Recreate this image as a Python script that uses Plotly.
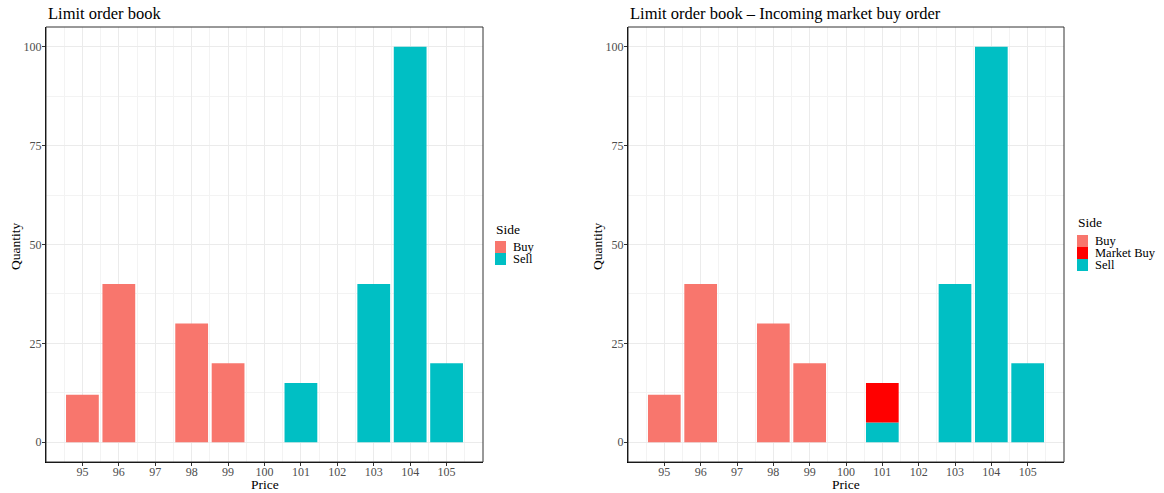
import plotly.graph_objects as go

prices = [95, 96, 97, 98, 99, 100, 101, 102, 103, 104, 105]
buy_price = [95, 96, 98, 99]
buy_qty = [12, 40, 30, 20]
sell_price = [101, 103, 104, 105]
sell_qty = [15, 40, 100, 20]
# right panel
sell_price2 = [101, 103, 104, 105]
sell_qty2 = [5, 40, 100, 20]
mkt_price = [101]
mkt_qty = [10]
y_ticks = [0, 25, 50, 75, 100]

C_BUY = "#F8766D"
C_SELL = "#00BFC4"
C_MKT = "#FF0000"
FONT = "Liberation Serif"

fig = go.Figure()
fig.add_bar(x=buy_price, y=buy_qty, name="Buy", marker_color=C_BUY, width=0.9,
            xaxis="x", yaxis="y", marker_line_width=0)
fig.add_bar(x=sell_price, y=sell_qty, name="Sell", marker_color=C_SELL, width=0.9,
            xaxis="x", yaxis="y", marker_line_width=0)
fig.add_bar(x=buy_price, y=buy_qty, name="Buy", marker_color=C_BUY, width=0.9,
            xaxis="x2", yaxis="y2", marker_line_width=0)
fig.add_bar(x=sell_price2, y=sell_qty2, name="Sell", marker_color=C_SELL, width=0.9,
            xaxis="x2", yaxis="y2", marker_line_width=0)
fig.add_bar(x=mkt_price, y=mkt_qty, base=[sell_qty2[0]], name="Market Buy", marker_color=C_MKT,
            width=0.9, xaxis="x2", yaxis="y2", marker_line_width=0)

W, H = 1164, 493

def px(x):
    return x / W

def py(y):
    return 1 - y / H

ydom = [py(462), py(27)]
xdom1 = [px(46), px(483)]
xdom2 = [px(628), px(1064)]

def xaxis(dom, anchor):
    return dict(domain=dom, anchor=anchor, range=[94, 106], tickvals=prices,
                ticktext=[str(p) for p in prices], showgrid=True, gridcolor="#EBEBEB",
                gridwidth=1, minor=dict(dtick=0.5, tick0=94, showgrid=True, gridcolor="#F3F3F3", gridwidth=0.6),
                showline=True, linecolor="black", linewidth=1.3, ticks="outside", ticklen=3,
                tickcolor="#333333", tickfont=dict(size=12, color="#4D4D4D", family=FONT),
                ticklabelstandoff=-5,
                zeroline=False, fixedrange=True, automargin=False)

def yaxis(dom, anchor):
    return dict(domain=dom, anchor=anchor, range=[-5, 105], tickvals=y_ticks,
                showgrid=True, gridcolor="#EBEBEB", gridwidth=1,
                minor=dict(dtick=12.5, tick0=0, showgrid=True, gridcolor="#F3F3F3", gridwidth=0.6),
                showline=True, linecolor="black", linewidth=1.3, ticks="outside", ticklen=3,
                tickcolor="#333333", tickfont=dict(size=12, color="#4D4D4D", family=FONT),
                ticklabelstandoff=-2,
                zeroline=False, fixedrange=True, automargin=False)

shapes = [
    dict(type="rect", xref="paper", yref="paper", x0=xdom1[0], x1=xdom1[1], y0=ydom[0], y1=ydom[1],
         line=dict(color="#333333", width=1), layer="above"),
    dict(type="rect", xref="paper", yref="paper", x0=xdom2[0], x1=xdom2[1], y0=ydom[0], y1=ydom[1],
         line=dict(color="#333333", width=1), layer="above"),
]

def ann(text, x, y, size, xanchor="left", angle=0, color="black"):
    return dict(text=text, x=px(x), y=py(y), xref="paper", yref="paper", xanchor=xanchor,
                yanchor="middle", showarrow=False, textangle=angle,
                font=dict(size=size, family=FONT, color=color))

annotations = [
    ann("Limit order book", 46, 13, 16.5),
    ann("Limit order book \u2013 Incoming market buy order", 628, 13, 16.5),
    ann("Price", (46 + 483) / 2, 484, 13.5, xanchor="center"),
    ann("Price", (628 + 1064) / 2, 484, 13.5, xanchor="center"),
    ann("Quantity", 15, 247, 13.5, xanchor="center", angle=-90),
    ann("Quantity", 597, 247, 13.5, xanchor="center", angle=-90),
]

def legend(x0, title_y, sq_top, items):
    annotations.append(ann("Side", x0 - 1, title_y, 13.5))
    for i, (name, col) in enumerate(items):
        t = sq_top + 12 * i
        shapes.append(dict(type="rect", xref="paper", yref="paper", x0=px(x0), x1=px(x0 + 11),
                           y0=py(t + 12), y1=py(t), fillcolor=col, line=dict(width=0)))
        annotations.append(ann(name, x0 + 16, t + 6, 12.5))

legend(495, 229, 241, [("Buy", C_BUY), ("Sell", C_SELL)])
legend(1077, 223, 235, [("Buy", C_BUY), ("Market Buy", C_MKT), ("Sell", C_SELL)])

fig.update_layout(
    width=W, height=H, margin=dict(l=0, r=0, t=0, b=0, autoexpand=False),
    plot_bgcolor="white", paper_bgcolor="white", barmode="overlay", showlegend=False,
    font=dict(family=FONT, color="black"),
    xaxis=xaxis(xdom1, "y"), yaxis=yaxis(ydom, "x"),
    xaxis2=xaxis(xdom2, "y2"), yaxis2=yaxis(ydom, "x2"),
    annotations=annotations, shapes=shapes,
)

fig.write_html("out.html", config={"displayModeBar": False},
               post_script="document.body.style.margin='0px';document.body.style.overflow='hidden';")
